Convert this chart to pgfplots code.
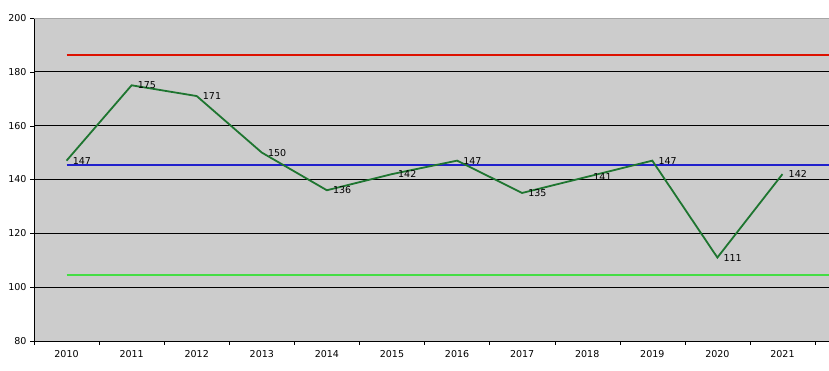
\documentclass[border=0pt]{standalone}
\usepackage{fontspec}
\setmainfont{DejaVu Sans}
\usepackage{pgfplots}
\pgfplotsset{compat=1.18}
\definecolor{bgc}{HTML}{CCCCCC}
\definecolor{ser}{HTML}{1E7530}
\definecolor{redl}{HTML}{DD1100}
\definecolor{bluel}{HTML}{2020CC}
\definecolor{greenl}{HTML}{44DD44}
\begin{document}
\begin{tikzpicture}
\begin{axis}[
  name=ax,
  scale only axis,
  width=795pt, height=323pt,
  xmin=-0.5, xmax=11.715,
  ymin=80, ymax=200,
  ytick={80,100,...,200},
  xtick={0,...,11},
  xticklabels={2010,2011,2012,2013,2014,2015,2016,2017,2018,2019,2020,2021},
  minor xtick={-0.5,0.5,...,11.5},
  major x tick style={draw=none},
  minor tick length=4pt,
  major tick length=4pt,
  tick align=outside,
  ytick style={black},
  xtick style={black},
  ymajorgrids,
  grid style={black, line width=0.8pt},
  axis x line*=bottom,
  axis y line*=left,
  axis line style={black, line width=0.8pt},
  axis background/.style={fill=bgc},
  tick label style={font=\fontsize{9.5}{10}\selectfont},
  /pgf/number format/assume math mode=true,
  xticklabel style={yshift=-2pt},
  clip=false,
]
\draw[gray!70, line width=0.8pt] (rel axis cs:0,1) -- (rel axis cs:1,1);
\addplot[draw=redl, line width=1.7pt, mark=none] coordinates {(0,186.2) (11.715,186.2)};
\addplot[draw=bluel, line width=1.7pt, mark=none] coordinates {(0,145.4) (11.715,145.4)};
\addplot[draw=greenl, line width=1.7pt, mark=none] coordinates {(0,104.5) (11.715,104.5)};
\addplot[draw=ser, line width=1.8pt, mark=none,
  nodes near coords,
  every node near coord/.append style={anchor=west, xshift=2pt, font=\fontsize{9.5}{10}\selectfont, black}] coordinates {
(0,147) (1,175) (2,171) (3,150) (4,136) (5,142) (6,147) (7,135) (8,141) (9,147) (10,111) (11,142)};
\end{axis}
\pgfresetboundingbox
\path[use as bounding box] ([xshift=-34pt,yshift=-30pt]ax.south west) rectangle ([yshift=18pt]ax.north east);
\end{tikzpicture}
\end{document}
